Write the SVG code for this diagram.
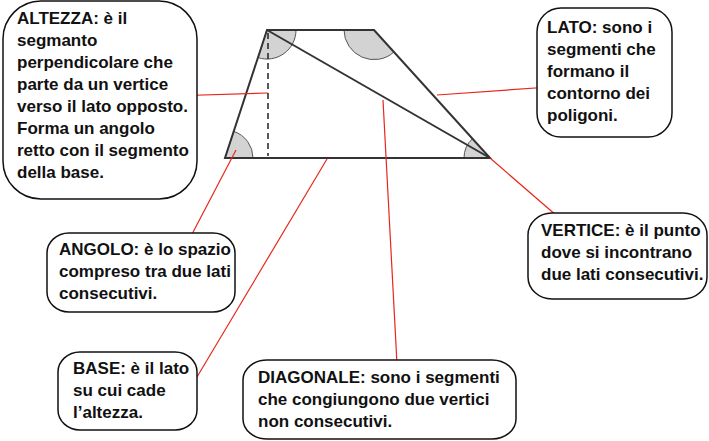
<svg xmlns="http://www.w3.org/2000/svg" width="709" height="441" viewBox="0 0 709 441">
<style>
.box{fill:#fff;stroke:#111;stroke-width:1.5}
.t{font-family:"Liberation Sans",Arial,sans-serif;font-weight:bold;font-size:17px;fill:#111}
.edge{fill:none;stroke:#333;stroke-width:2}
.ang{fill:#d3d3d3;stroke:#555;stroke-width:1}
.red{stroke:#e8261c;stroke-width:1.2;fill:none}
</style>
<rect width="709" height="441" fill="#fff"/>
<g id="trapezio">
<path class="ang" d="M267,30 L296,30 A29,29 0 0 1 258,57.6 Z"/>
<path class="ang" d="M374,30 L394,52 A30,30 0 0 1 344,30 Z"/>
<path class="ang" d="M225,158 L233.7,131.4 A28,28 0 0 1 253,158 Z"/>
<path class="ang" d="M490,158 L464,158 A26,26 0 0 1 472.5,138.7 Z"/>
<polygon class="edge" points="267,30 374,30 490,158 225,158"/>
<line class="edge" x1="267" y1="30" x2="490" y2="158"/>
<line x1="268" y1="33" x2="268" y2="156" stroke="#222" stroke-width="1.5" stroke-dasharray="6,4"/>
</g>
<g id="connettori">
<line class="red" x1="170" y1="96" x2="268" y2="93"/>
<line class="red" x1="236" y1="150" x2="190" y2="238"/>
<line class="red" x1="327" y1="159" x2="197" y2="377"/>
<line class="red" x1="383" y1="100" x2="397" y2="364"/>
<line class="red" x1="437" y1="95" x2="550" y2="87"/>
<line class="red" x1="490" y1="158" x2="557" y2="216"/>
</g>
<g id="altezza">
<rect class="box" x="3" y="1" width="194" height="198" rx="38" ry="38"/>
<text class="t" x="17"><tspan x="17" y="24">ALTEZZA: è il</tspan><tspan x="17" y="46">segmanto</tspan><tspan x="17" y="68">perpendicolare che</tspan><tspan x="17" y="90">parte da un vertice</tspan><tspan x="17" y="112">verso il lato opposto.</tspan><tspan x="17" y="134">Forma un angolo</tspan><tspan x="17" y="156">retto con il segmento</tspan><tspan x="17" y="178">della base.</tspan></text>
</g>
<g id="lato">
<rect class="box" x="537" y="8" width="135" height="129" rx="24" ry="24"/>
<text class="t"><tspan x="547" y="33">LATO: sono i</tspan><tspan x="547" y="55">segmenti che</tspan><tspan x="547" y="77">formano il</tspan><tspan x="547" y="99">contorno dei</tspan><tspan x="547" y="121">poligoni.</tspan></text>
</g>
<g id="angolo">
<rect class="box" x="47" y="233" width="188" height="79" rx="22" ry="20"/>
<text class="t"><tspan x="59" y="255">ANGOLO: è lo spazio</tspan><tspan x="59" y="277">compreso tra due lati</tspan><tspan x="59" y="299">consecutivi.</tspan></text>
</g>
<g id="vertice">
<rect class="box" x="528" y="213" width="179" height="86" rx="24" ry="22"/>
<text class="t"><tspan x="541" y="236">VERTICE: è il punto</tspan><tspan x="541" y="258">dove si incontrano</tspan><tspan x="541" y="280">due lati consecutivi.</tspan></text>
</g>
<g id="base">
<rect class="box" x="58" y="352" width="139" height="78" rx="22" ry="20"/>
<text class="t"><tspan x="73" y="374">BASE: è il lato</tspan><tspan x="73" y="396">su cui cade</tspan><tspan x="73" y="418">l’altezza.</tspan></text>
</g>
<g id="diagonale">
<rect class="box" x="243" y="360" width="273" height="79" rx="24" ry="20"/>
<text class="t"><tspan x="258" y="383">DIAGONALE: sono i segmenti</tspan><tspan x="258" y="405">che congiungono due vertici</tspan><tspan x="258" y="427">non consecutivi.</tspan></text>
</g>
</svg>
